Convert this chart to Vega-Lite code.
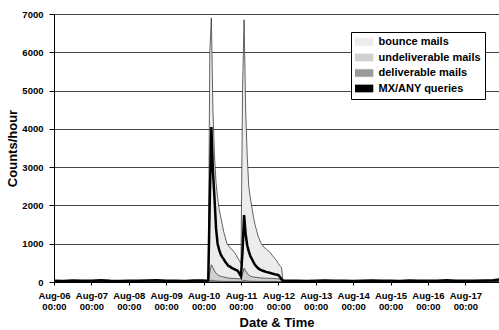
{
  "$schema": "https://vega.github.io/schema/vega-lite/v6.json",
  "autosize": {"type": "none"},
  "width": 445,
  "height": 268,
  "padding": {"left": 54, "top": 14, "right": 0, "bottom": 48},
  "background": "white",
  "config": {
    "view": {"stroke": null},
    "font": "Liberation Sans",
    "axisY": {
      "titleFont": "Liberation Sans",
      "titleFontSize": 13,
      "titleFontWeight": "bold",
      "titleColor": "black",
      "titleX": -35,
      "titleY": 134,
      "labelFont": "Liberation Sans",
      "labelFontSize": 9.5,
      "labelFontWeight": "bold",
      "labelColor": "black",
      "labelPadding": 6,
      "labelOverlap": false,
      "tickColor": "black",
      "tickSize": 5,
      "domainColor": "black",
      "grid": true,
      "gridColor": "#444",
      "gridWidth": 1
    }
  },
  "data": {
    "values": [
      {"t": "2006-08-06T00:00:00", "total": 0, "lower": 0, "deliv": 0, "mx": 30},
      {"t": "2006-08-06T06:00:00", "total": 0, "lower": 0, "deliv": 0, "mx": 25},
      {"t": "2006-08-06T12:00:00", "total": 0, "lower": 0, "deliv": 0, "mx": 40},
      {"t": "2006-08-06T18:00:00", "total": 0, "lower": 0, "deliv": 0, "mx": 35},
      {"t": "2006-08-07T00:00:00", "total": 0, "lower": 0, "deliv": 0, "mx": 30},
      {"t": "2006-08-07T06:00:00", "total": 0, "lower": 0, "deliv": 0, "mx": 45},
      {"t": "2006-08-07T12:00:00", "total": 0, "lower": 0, "deliv": 0, "mx": 30},
      {"t": "2006-08-07T18:00:00", "total": 0, "lower": 0, "deliv": 0, "mx": 25},
      {"t": "2006-08-08T00:00:00", "total": 0, "lower": 0, "deliv": 0, "mx": 35},
      {"t": "2006-08-08T06:00:00", "total": 0, "lower": 0, "deliv": 0, "mx": 30},
      {"t": "2006-08-08T12:00:00", "total": 0, "lower": 0, "deliv": 0, "mx": 40},
      {"t": "2006-08-08T18:00:00", "total": 0, "lower": 0, "deliv": 0, "mx": 45},
      {"t": "2006-08-09T00:00:00", "total": 0, "lower": 0, "deliv": 0, "mx": 30},
      {"t": "2006-08-09T06:00:00", "total": 0, "lower": 0, "deliv": 0, "mx": 35},
      {"t": "2006-08-09T12:00:00", "total": 0, "lower": 0, "deliv": 0, "mx": 25},
      {"t": "2006-08-09T18:00:00", "total": 0, "lower": 0, "deliv": 0, "mx": 40},
      {"t": "2006-08-10T00:00:00", "total": 0, "lower": 0, "deliv": 0, "mx": 40},
      {"t": "2006-08-10T01:00:00", "total": 0, "lower": 0, "deliv": 0, "mx": 35},
      {"t": "2006-08-10T02:00:00", "total": 0, "lower": 0, "deliv": 0, "mx": 40},
      {"t": "2006-08-10T03:00:00", "total": 0, "lower": 0, "deliv": 0, "mx": 50},
      {"t": "2006-08-10T04:00:00", "total": 6000, "lower": 250, "deliv": 30, "mx": 2200},
      {"t": "2006-08-10T05:00:00", "total": 6900, "lower": 450, "deliv": 50, "mx": 4050},
      {"t": "2006-08-10T06:00:00", "total": 4500, "lower": 380, "deliv": 40, "mx": 2900},
      {"t": "2006-08-10T07:00:00", "total": 3300, "lower": 290, "deliv": 35, "mx": 2200},
      {"t": "2006-08-10T08:00:00", "total": 2600, "lower": 230, "deliv": 30, "mx": 1400},
      {"t": "2006-08-10T09:00:00", "total": 2200, "lower": 190, "deliv": 25, "mx": 1000},
      {"t": "2006-08-10T10:00:00", "total": 1900, "lower": 170, "deliv": 25, "mx": 840},
      {"t": "2006-08-10T11:00:00", "total": 1700, "lower": 150, "deliv": 20, "mx": 720},
      {"t": "2006-08-10T12:00:00", "total": 1500, "lower": 140, "deliv": 20, "mx": 650},
      {"t": "2006-08-10T13:00:00", "total": 1300, "lower": 130, "deliv": 20, "mx": 590},
      {"t": "2006-08-10T14:00:00", "total": 1150, "lower": 120, "deliv": 20, "mx": 520},
      {"t": "2006-08-10T15:00:00", "total": 1000, "lower": 110, "deliv": 15, "mx": 470},
      {"t": "2006-08-10T16:00:00", "total": 950, "lower": 105, "deliv": 15, "mx": 420},
      {"t": "2006-08-10T17:00:00", "total": 900, "lower": 100, "deliv": 15, "mx": 400},
      {"t": "2006-08-10T18:00:00", "total": 850, "lower": 95, "deliv": 15, "mx": 370},
      {"t": "2006-08-10T19:00:00", "total": 820, "lower": 95, "deliv": 15, "mx": 350},
      {"t": "2006-08-10T20:00:00", "total": 760, "lower": 90, "deliv": 15, "mx": 330},
      {"t": "2006-08-10T21:00:00", "total": 700, "lower": 90, "deliv": 15, "mx": 310},
      {"t": "2006-08-10T22:00:00", "total": 620, "lower": 85, "deliv": 15, "mx": 290},
      {"t": "2006-08-10T23:00:00", "total": 560, "lower": 85, "deliv": 15, "mx": 220},
      {"t": "2006-08-11T00:00:00", "total": 480, "lower": 80, "deliv": 15, "mx": 150},
      {"t": "2006-08-11T01:00:00", "total": 5000, "lower": 220, "deliv": 30, "mx": 800},
      {"t": "2006-08-11T02:00:00", "total": 6850, "lower": 360, "deliv": 45, "mx": 1750},
      {"t": "2006-08-11T03:00:00", "total": 4500, "lower": 290, "deliv": 35, "mx": 1250},
      {"t": "2006-08-11T04:00:00", "total": 3300, "lower": 230, "deliv": 30, "mx": 960},
      {"t": "2006-08-11T05:00:00", "total": 2500, "lower": 180, "deliv": 25, "mx": 800},
      {"t": "2006-08-11T06:00:00", "total": 2200, "lower": 155, "deliv": 25, "mx": 680},
      {"t": "2006-08-11T07:00:00", "total": 1950, "lower": 140, "deliv": 20, "mx": 600},
      {"t": "2006-08-11T08:00:00", "total": 1700, "lower": 130, "deliv": 20, "mx": 520},
      {"t": "2006-08-11T09:00:00", "total": 1500, "lower": 125, "deliv": 20, "mx": 450},
      {"t": "2006-08-11T10:00:00", "total": 1350, "lower": 120, "deliv": 20, "mx": 400},
      {"t": "2006-08-11T11:00:00", "total": 1200, "lower": 115, "deliv": 15, "mx": 360},
      {"t": "2006-08-11T12:00:00", "total": 1100, "lower": 110, "deliv": 15, "mx": 330},
      {"t": "2006-08-11T13:00:00", "total": 1000, "lower": 105, "deliv": 15, "mx": 310},
      {"t": "2006-08-11T14:00:00", "total": 950, "lower": 105, "deliv": 15, "mx": 295},
      {"t": "2006-08-11T15:00:00", "total": 900, "lower": 100, "deliv": 15, "mx": 280},
      {"t": "2006-08-11T16:00:00", "total": 870, "lower": 100, "deliv": 15, "mx": 265},
      {"t": "2006-08-11T17:00:00", "total": 830, "lower": 100, "deliv": 15, "mx": 255},
      {"t": "2006-08-11T18:00:00", "total": 800, "lower": 95, "deliv": 15, "mx": 245},
      {"t": "2006-08-11T19:00:00", "total": 760, "lower": 95, "deliv": 15, "mx": 235},
      {"t": "2006-08-11T20:00:00", "total": 700, "lower": 95, "deliv": 15, "mx": 220},
      {"t": "2006-08-11T21:00:00", "total": 650, "lower": 90, "deliv": 15, "mx": 210},
      {"t": "2006-08-11T22:00:00", "total": 600, "lower": 90, "deliv": 15, "mx": 200},
      {"t": "2006-08-11T23:00:00", "total": 550, "lower": 85, "deliv": 15, "mx": 190},
      {"t": "2006-08-12T00:00:00", "total": 480, "lower": 80, "deliv": 10, "mx": 180},
      {"t": "2006-08-12T01:00:00", "total": 420, "lower": 70, "deliv": 10, "mx": 130},
      {"t": "2006-08-12T02:00:00", "total": 380, "lower": 60, "deliv": 10, "mx": 70},
      {"t": "2006-08-12T03:00:00", "total": 0, "lower": 0, "deliv": 0, "mx": 40},
      {"t": "2006-08-12T06:00:00", "total": 0, "lower": 0, "deliv": 0, "mx": 30},
      {"t": "2006-08-12T12:00:00", "total": 0, "lower": 0, "deliv": 0, "mx": 35},
      {"t": "2006-08-12T18:00:00", "total": 0, "lower": 0, "deliv": 0, "mx": 25},
      {"t": "2006-08-13T00:00:00", "total": 0, "lower": 0, "deliv": 0, "mx": 30},
      {"t": "2006-08-13T06:00:00", "total": 0, "lower": 0, "deliv": 0, "mx": 40},
      {"t": "2006-08-13T12:00:00", "total": 0, "lower": 0, "deliv": 0, "mx": 30},
      {"t": "2006-08-13T18:00:00", "total": 0, "lower": 0, "deliv": 0, "mx": 35},
      {"t": "2006-08-14T00:00:00", "total": 0, "lower": 0, "deliv": 0, "mx": 25},
      {"t": "2006-08-14T06:00:00", "total": 0, "lower": 0, "deliv": 0, "mx": 35},
      {"t": "2006-08-14T12:00:00", "total": 0, "lower": 0, "deliv": 0, "mx": 40},
      {"t": "2006-08-14T18:00:00", "total": 0, "lower": 0, "deliv": 0, "mx": 30},
      {"t": "2006-08-15T00:00:00", "total": 0, "lower": 0, "deliv": 0, "mx": 35},
      {"t": "2006-08-15T06:00:00", "total": 0, "lower": 0, "deliv": 0, "mx": 25},
      {"t": "2006-08-15T12:00:00", "total": 0, "lower": 0, "deliv": 0, "mx": 40},
      {"t": "2006-08-15T18:00:00", "total": 0, "lower": 0, "deliv": 0, "mx": 30},
      {"t": "2006-08-16T00:00:00", "total": 0, "lower": 0, "deliv": 0, "mx": 35},
      {"t": "2006-08-16T06:00:00", "total": 0, "lower": 0, "deliv": 0, "mx": 30},
      {"t": "2006-08-16T12:00:00", "total": 0, "lower": 0, "deliv": 0, "mx": 45},
      {"t": "2006-08-16T18:00:00", "total": 0, "lower": 0, "deliv": 0, "mx": 30},
      {"t": "2006-08-17T00:00:00", "total": 0, "lower": 0, "deliv": 0, "mx": 35},
      {"t": "2006-08-17T06:00:00", "total": 0, "lower": 0, "deliv": 0, "mx": 30},
      {"t": "2006-08-17T12:00:00", "total": 0, "lower": 0, "deliv": 0, "mx": 40},
      {"t": "2006-08-17T18:00:00", "total": 0, "lower": 0, "deliv": 0, "mx": 45},
      {"t": "2006-08-17T22:00:00", "total": 0, "lower": 0, "deliv": 0, "mx": 70}
    ]
  },
  "encoding": {
    "x": {
      "field": "t",
      "type": "temporal",
      "scale": {"domain": ["2006-08-06T00:00:00", "2006-08-17T21:36:00"], "nice": false},
      "axis": {
        "title": "Date & Time",
        "titleFont": "Liberation Sans",
        "titleFontSize": 13,
        "titleFontWeight": "bold",
        "titleColor": "black",
        "titlePadding": 6,
        "tickCount": {"interval": "day", "step": 1},
        "labelExpr": "[timeFormat(datum.value, '%b-%d'), timeFormat(datum.value, '%H:%M')]",
        "labelFont": "Liberation Sans",
        "labelFontSize": 9.5,
        "labelFontWeight": "bold",
        "labelColor": "black",
        "labelLineHeight": 11,
        "labelPadding": 5,
        "labelFlush": false,
        "labelBound": false,
        "labelOverlap": false,
        "tickColor": "black",
        "tickSize": 3,
        "domainColor": "black",
        "grid": false
      }
    }
  },
  "layer": [
    {
      "mark": {"type": "area", "stroke": "#222", "strokeWidth": 0.7, "clip": true},
      "encoding": {
        "y": {
          "field": "total",
          "type": "quantitative",
          "stack": null,
          "scale": {"domain": [0, 7000], "nice": false},
          "axis": {"title": "Counts/hour", "values": [0, 1000, 2000, 3000, 4000, 5000, 6000, 7000], "format": "d"}
        },
        "color": {
          "datum": "bounce mails",
          "type": "nominal",
          "scale": {
            "domain": ["bounce mails", "undeliverable mails", "deliverable mails", "MX/ANY queries"],
            "range": ["#ececec", "#d0d0d0", "#9a9a9a", "black"]
          },
          "legend": {
            "title": null,
            "orient": "none",
            "legendX": 297,
            "legendY": 18,
            "fillColor": "white",
            "strokeColor": "black",
            "padding": 4,
            "rowPadding": 3.5,
            "clipHeight": 12,
            "labelFont": "Liberation Sans",
            "labelFontSize": 11,
            "labelFontWeight": "bold",
            "labelColor": "black",
            "labelOffset": 8,
            "symbolSize": 144,
            "symbolOffset": 2.5,
            "symbolStrokeWidth": 0.6,
            "symbolType": "M-1.5,-0.6H1.5V0.6H-1.5Z",
            "encode": {
              "symbols": {
                "shape": {"value": {"expr": "datum.value === 'MX/ANY queries' ? 'M-1.5,-0.15H1.5V0.15H-1.5Z' : 'M-1.5,-0.6H1.5V0.6H-1.5Z'"}},
                "stroke": {"value": "black"},
                "strokeWidth": {"value": 0.6},
                "opacity": {"value": 1},
                "fillOpacity": {"value": 1}
              }
            }
          }
        }
      }
    },
    {
      "mark": {"type": "area", "stroke": "#222", "strokeWidth": 0.7, "clip": true},
      "encoding": {
        "y": {
          "field": "lower", "type": "quantitative", "stack": null,
          "axis": {"title": "Counts/hour", "values": [0, 1000, 2000, 3000, 4000, 5000, 6000, 7000], "format": "d"}
        },
        "color": {"datum": "undeliverable mails", "type": "nominal"}
      }
    },
    {
      "mark": {"type": "area", "stroke": "#222", "strokeWidth": 0.5, "clip": true},
      "encoding": {
        "y": {
          "field": "deliv", "type": "quantitative", "stack": null,
          "axis": {"title": "Counts/hour", "values": [0, 1000, 2000, 3000, 4000, 5000, 6000, 7000], "format": "d"}
        },
        "color": {"datum": "deliverable mails", "type": "nominal"}
      }
    },
    {
      "mark": {"type": "line", "strokeWidth": 2.5, "clip": true},
      "encoding": {
        "y": {
          "field": "mx", "type": "quantitative",
          "axis": {"title": "Counts/hour", "values": [0, 1000, 2000, 3000, 4000, 5000, 6000, 7000], "format": "d"}
        },
        "color": {"datum": "MX/ANY queries", "type": "nominal"}
      }
    }
  ]
}
